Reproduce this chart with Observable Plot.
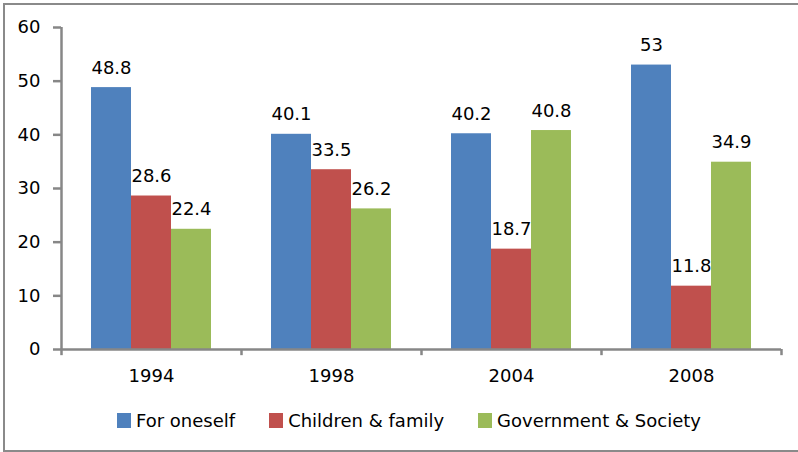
<!DOCTYPE html>
<html>
<head>
<meta charset="utf-8">
<script src="https://cdn.jsdelivr.net/npm/d3@7"></script>
<script src="https://cdn.jsdelivr.net/npm/@observablehq/plot@0.6"></script>
<style>
  html, body { margin: 0; padding: 0; background: #fff; }
  #wrap { position: relative; width: 798px; height: 452px; overflow: hidden; background: #fff; font-family: "DejaVu Sans", sans-serif; }
  #border { position: absolute; left: 3px; top: 3px; width: 800px; height: 449px; box-sizing: border-box; border: 2px solid #8a8a8a; pointer-events: none; }
  #legend { display: flex; align-items: center; height: 40px; padding-left: 117px; font-size: 18px; color: #000; }
  .item { display: flex; align-items: center; margin-right: 34px; }
  .sw { width: 14px; height: 15px; margin-right: 5px; }
</style>
</head>
<body>
<div id="wrap">
  <div id="chart"></div>
  <div id="legend"></div>
  <div id="border"></div>
</div>
<script>
const years = ["1994", "1998", "2004", "2008"];
const series = ["For oneself", "Children & family", "Government & Society"];
const forOneself = [48.8, 40.1, 40.2, 53];
const childrenFamily = [28.6, 33.5, 18.7, 11.8];
const governmentSociety = [22.4, 26.2, 40.8, 34.9];
const colors = ["#4F81BD", "#C0504D", "#9BBB59"];
const yTicks = [0, 10, 20, 30, 40, 50, 60];

const seriesValues = [forOneself, childrenFamily, governmentSociety];
const rows = [];
years.forEach((year, yi) => {
  series.forEach((s, si) => {
    rows.push({ year, series: s, i: si, value: seriesValues[si][yi] });
  });
});

const xDomain = [-0.75, series.length + 0.75];
const gray = "#878787";
const fs = 18;

const chart = Plot.plot({
  width: 798,
  height: 400,
  marginLeft: 61,
  marginRight: 17,
  marginTop: 27,
  marginBottom: 51,
  style: { fontFamily: "DejaVu Sans, sans-serif", fontSize: fs + "px", color: "#000", background: "transparent" },
  fx: { domain: years, padding: 0, label: null, axis: null },
  x: { domain: xDomain, axis: null },
  y: { domain: [0, 60], axis: null },
  color: { domain: series, range: colors },
  marks: [
    Plot.rect(rows, { fx: "year", x1: "i", x2: d => d.i + 1, y1: 0, y2: "value", fill: "series" }),
    Plot.text(rows, { fx: "year", x: d => d.i + 0.5, y: "value", text: d => String(d.value), lineAnchor: "bottom", dy: -14, fontSize: fs, fill: "#000" }),
    Plot.ruleY([0], { stroke: gray, strokeWidth: 2.5 }),
    Plot.ruleX([years[0]], { fx: d => d, x: xDomain[0], y1: 0, y2: 60, stroke: gray, strokeWidth: 2.5 }),
    Plot.ruleX(years, { fx: d => d, x: xDomain[0], y1: 0, y2: -1.15, stroke: gray, strokeWidth: 2.5 }),
    Plot.ruleX([years[years.length - 1]], { fx: d => d, x: xDomain[1], y1: 0, y2: -1.15, stroke: gray, strokeWidth: 2.5 }),
    Plot.axisY({ ticks: yTicks, tickSize: 8, tickPadding: 13, stroke: gray, strokeWidth: 2.5, fill: "#000", fontSize: fs, label: null }),
    Plot.axisFx({ anchor: "bottom", tickSize: 0, tickPadding: 20, fontSize: fs, fill: "#000", label: null })
  ]
});
document.getElementById("chart").appendChild(chart);

const legend = document.getElementById("legend");
series.forEach((s, i) => {
  const item = document.createElement("div");
  item.className = "item";
  const sw = document.createElement("div");
  sw.className = "sw";
  sw.style.background = colors[i];
  const lab = document.createElement("span");
  lab.textContent = s;
  item.appendChild(sw);
  item.appendChild(lab);
  legend.appendChild(item);
});
</script>
</body>
</html>
